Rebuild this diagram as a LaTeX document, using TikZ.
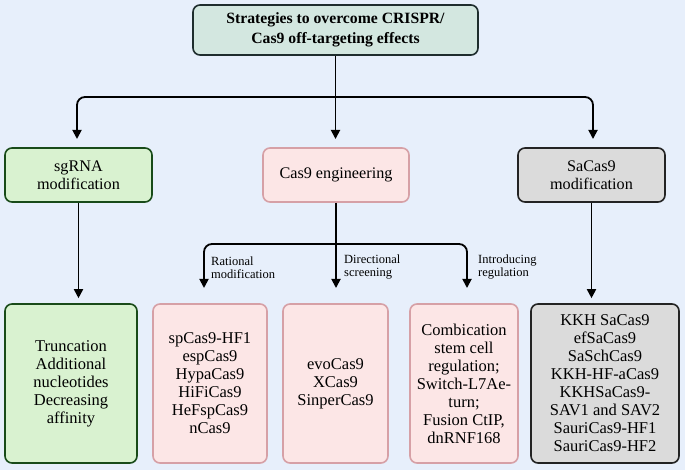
\documentclass[tikz,border=0pt]{standalone}
\usepackage{fontspec}
\setmainfont{Liberation Serif}
\usetikzlibrary{arrows.meta}
\definecolor{bgc}{RGB}{231,239,251}
\definecolor{topfill}{RGB}{211,231,224}
\definecolor{topdraw}{RGB}{30,45,45}
\definecolor{grfill}{RGB}{217,242,208}
\definecolor{grdraw}{RGB}{25,75,25}
\definecolor{pkfill}{RGB}{252,230,230}
\definecolor{pkdraw}{RGB}{214,160,166}
\definecolor{gyfill}{RGB}{219,219,219}
\definecolor{gydraw}{RGB}{35,35,35}
\begin{document}
\begin{tikzpicture}[x=1pt,y=-1pt,
  box/.style={draw, rounded corners=7pt, line width=1.6pt, align=center, inner sep=2pt},
  topbox/.style={box, fill=topfill, draw=topdraw, minimum width=285pt, minimum height=50pt,
    font=\fontsize{15.7}{20}\selectfont\bfseries},
  midbox/.style={box, minimum width=147pt, minimum height=54pt, font=\fontsize{16.2}{17.5}\selectfont},
  lowbox/.style={box, minimum height=159pt, font=\fontsize{16.5}{18}\selectfont},
  greenbox/.style={fill=grfill, draw=grdraw},
  pinkbox/.style={fill=pkfill, draw=pkdraw},
  greybox/.style={fill=gyfill, draw=gydraw},
  lab/.style={anchor=west, align=left, inner sep=0pt, font=\fontsize{12.5}{13}\selectfont},
  arr/.style={line width=1.8pt, -{Triangle[width=9pt,length=9pt]}},
  arrs/.style={line width=1.8pt, {Triangle[width=9pt,length=9pt]}-{Triangle[width=9pt,length=9pt]}, rounded corners=8pt},
]
\fill[bgc] (0,0) rectangle (685,470);
\useasboundingbox (0,0) rectangle (685,470);

\node[topbox] (top) at (335.5,30) {Strategies to overcome CRISPR/\\Cas9 off-targeting effects};

\node[midbox, greenbox] (sg) at (78.5,175) {sgRNA\\modification};
\node[midbox, pinkbox, minimum width=146pt] (cas) at (336,175) {Cas9 engineering};
\node[midbox, greybox] (sa) at (591.5,175) {SaCas9\\modification};

\node[lowbox, greenbox, minimum width=132pt] (b1) at (71,383.5) {Truncation\\Additional\\nucleotides\\Decreasing\\affinity};
\node[lowbox, pinkbox, minimum width=114pt] (b2) at (210,383.5) {spCas9-HF1\\espCas9\\HypaCas9\\HiFiCas9\\HeFspCas9\\nCas9};
\node[lowbox, pinkbox, minimum width=105pt] (b3) at (335.5,383.5) {evoCas9\\XCas9\\SinperCas9};
\node[lowbox, pinkbox, minimum width=108pt] (b4) at (464,383.5) {Combication\\stem cell\\regulation;\\Switch-L7Ae-\\turn;\\Fusion CtIP,\\dnRNF168};
\node[lowbox, greybox, minimum width=148pt] (b5) at (605,383.5) {KKH SaCas9\\efSaCas9\\SaSchCas9\\KKH-HF-aCas9\\KKHSaCas9-\\SAV1 and SAV2\\SauriCas9-HF1\\SauriCas9-HF2};

% top level branching
\coordinate (j1) at (335.5,97);
\coordinate (t1) at (77,139);
\coordinate (t3) at (593,139);
\draw[arr] (top.south) -- (top.south |- t1);
\draw[arrs] (t1) |- (j1) -| (t3);

% sgRNA and SaCas9 down
\draw[arr] (sg.south) -- ([yshift=5pt]sg.south |- b1.north);
\draw[arr] (sa.south) -- ([yshift=5pt]sa.south |- b5.north);

% Cas9 engineering branching
\coordinate (j2) at (336,244);
\coordinate (u1) at (204,288);
\coordinate (u3) at (467,288);
\draw[arr] (cas.south) -- (cas.south |- u1);
\draw[arrs] (u1) |- (j2) -| (u3);

\node[lab] (l1) at (211,267.5) {Rational\\modification};
\node[lab] (l2) at (344,267.5) {Directional\\screening};
\node[lab] (l3) at (478,267.5) {Introducing\\regulation};
\end{tikzpicture}
\end{document}
